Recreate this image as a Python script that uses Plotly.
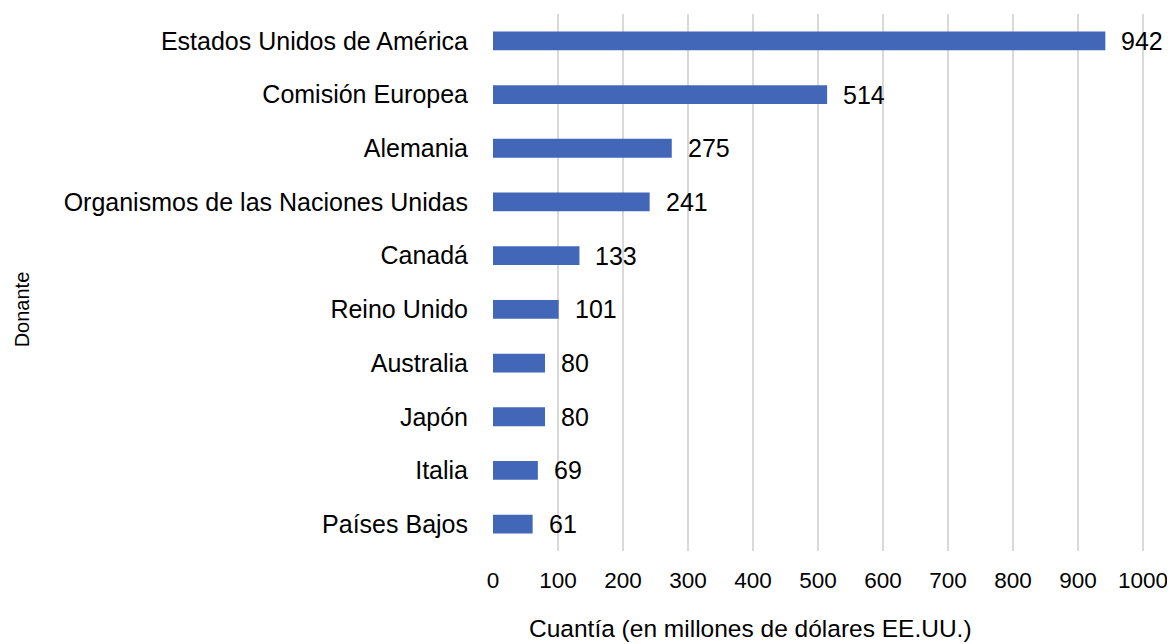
import plotly.graph_objects as go

BLUE, GRID = "#4267b8", "#d9d9d9"
FONT = "Liberation Sans, Arial, sans-serif"

donors = ["Estados Unidos de América", "Comisión Europea", "Alemania",
          "Organismos de las Naciones Unidas", "Canadá", "Reino Unido",
          "Australia", "Japón", "Italia", "Países Bajos"]
amounts = [942, 514, 275, 241, 133, 101, 80, 80, 69, 61]
x_ticks = [0, 100, 200, 300, 400, 500, 600, 700, 800, 900, 1000]

fig = go.Figure(go.Bar(
    x=amounts, y=donors, orientation="h", marker=dict(color=BLUE, line_width=0),
    width=0.35, hoverinfo="x+y"))

# value labels, a little to the right of each bar end
for d, v in zip(donors, amounts):
    fig.add_annotation(x=v, y=d, text=str(v), showarrow=False, xanchor="left",
                       xshift=14, font=dict(size=25, color="#000000"))

# axis titles placed by hand (Excel centres them on the whole chart, not the plot)
fig.add_annotation(text="Donante", xref="paper", yref="paper", x=-484 / 652, y=0.45,
                   textangle=-90, showarrow=False, font=dict(size=20, color="#000000"))
fig.add_annotation(text="Cuantía (en millones de dólares EE.UU.)", xref="paper", yref="paper",
                   x=257 / 652, y=0, yshift=-77, yanchor="middle", showarrow=False,
                   font=dict(size=24.5, color="#000000"))

fig.update_layout(
    width=1159, height=636, plot_bgcolor="white", paper_bgcolor="white",
    margin=dict(l=485, r=22, t=6, b=93),
    font=dict(family=FONT, size=24, color="#000000"),
    showlegend=False,
    xaxis=dict(range=[0, 1003], tickvals=x_ticks, showgrid=True, gridcolor=GRID, gridwidth=1.5,
               zeroline=False, showline=False, ticks="", ticklabelstandoff=13,
               tickfont=dict(size=22.5), automargin=False, ticklabeloverflow="allow"),
    yaxis=dict(autorange="reversed", categoryorder="array", categoryarray=donors,
               showgrid=False, zeroline=False, showline=False, ticks="", automargin=False,
               ticklabelstandoff=24, tickfont=dict(size=25)),
)

fig.write_html("out.html")
